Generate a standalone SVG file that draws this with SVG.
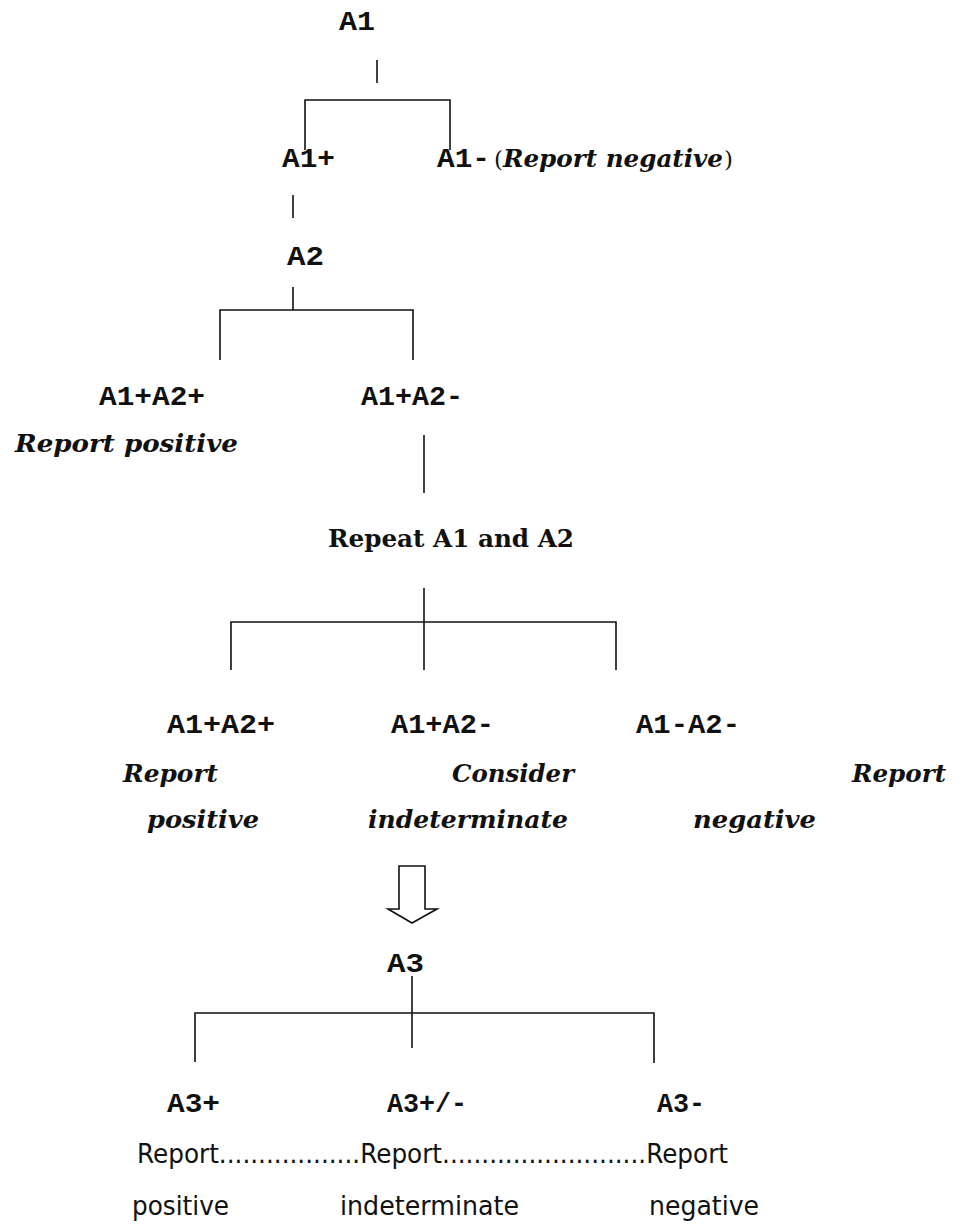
<svg xmlns="http://www.w3.org/2000/svg" width="963" height="1224" viewBox="0 0 963 1224">
<style>
.m{font-family:"Liberation Mono","DejaVu Sans Mono",monospace;font-weight:bold;font-size:27px;fill:#111}
.i{font-family:"DejaVu Serif","Liberation Serif",serif;font-weight:bold;font-style:italic;font-size:24px;fill:#111}
.r{font-family:"DejaVu Serif","Liberation Serif",serif;font-size:23px;fill:#111}
.b{font-family:"DejaVu Serif","Liberation Serif",serif;font-weight:bold;font-size:25px;fill:#111}
.s{font-family:"DejaVu Sans","Liberation Sans",sans-serif;font-size:26px;fill:#111}
.c{stroke:#111;stroke-width:1.6;fill:none}
</style>
<rect width="963" height="1224" fill="#fff"/>
<g id="connectors" class="c">
<path d="M377 60V83"/>
<path d="M305 150V100H450V150"/>
<path d="M293 195V218"/>
<path d="M293 287V310"/>
<path d="M220 360V310H413V360"/>
<path d="M424 435V493"/>
<path d="M424 588V670"/>
<path d="M231 670V622H616V670"/>
<polygon points="399,866 425,866 425,909 437,909 412,923 388,909 399,909" fill="#fff"/>
<path d="M412 976V1048"/>
<path d="M195 1062V1013H654V1063"/>
</g>
<g id="n-a1"><text class="m" x="339" y="30" textLength="36" lengthAdjust="spacingAndGlyphs">A1</text></g>
<g id="n-a1pos"><text class="m" x="282" y="167" textLength="53" lengthAdjust="spacingAndGlyphs">A1+</text></g>
<g id="n-a1neg"><text class="m" x="437" y="167" textLength="53" lengthAdjust="spacingAndGlyphs">A1-</text>
<text class="r" x="494" y="167">(</text>
<text class="i" x="503" y="167" textLength="220" lengthAdjust="spacingAndGlyphs">Report negative</text>
<text class="r" x="724" y="167">)</text></g>
<g id="n-a2"><text class="m" x="287" y="265" textLength="37" lengthAdjust="spacingAndGlyphs">A2</text></g>
<g id="n-a1pa2p"><text class="m" x="99" y="405" textLength="106" lengthAdjust="spacingAndGlyphs">A1+A2+</text>
<text class="i" x="15" y="452" textLength="223" lengthAdjust="spacingAndGlyphs">Report  positive</text></g>
<g id="n-a1pa2n"><text class="m" x="361" y="405" textLength="102" lengthAdjust="spacingAndGlyphs">A1+A2-</text></g>
<g id="n-repeat"><text class="b" x="328" y="547" textLength="246" lengthAdjust="spacingAndGlyphs">Repeat A1 and A2</text></g>
<g id="n-r-pp"><text class="m" x="167" y="733" textLength="108" lengthAdjust="spacingAndGlyphs">A1+A2+</text>
<text class="i" x="123" y="782" textLength="95" lengthAdjust="spacingAndGlyphs">Report</text>
<text class="i" x="147" y="828" textLength="112" lengthAdjust="spacingAndGlyphs">positive</text></g>
<g id="n-r-pn"><text class="m" x="391" y="733" textLength="103" lengthAdjust="spacingAndGlyphs">A1+A2-</text>
<text class="i" x="452" y="782" textLength="122" lengthAdjust="spacingAndGlyphs">Consider</text>
<text class="i" x="368" y="828" textLength="200" lengthAdjust="spacingAndGlyphs">indeterminate</text></g>
<g id="n-r-nn"><text class="m" x="636" y="733" textLength="104" lengthAdjust="spacingAndGlyphs">A1-A2-</text>
<text class="i" x="852" y="782" textLength="94" lengthAdjust="spacingAndGlyphs">Report</text>
<text class="i" x="693" y="828" textLength="123" lengthAdjust="spacingAndGlyphs">negative</text></g>
<g id="n-a3"><text class="m" x="387" y="972" textLength="37" lengthAdjust="spacingAndGlyphs">A3</text></g>
<g id="n-a3p"><text class="m" x="167" y="1112" textLength="53" lengthAdjust="spacingAndGlyphs">A3+</text>
<text class="s" x="132" y="1215" textLength="97" lengthAdjust="spacingAndGlyphs">positive</text></g>
<g id="n-a3pn"><text class="m" x="387" y="1112" textLength="80" lengthAdjust="spacingAndGlyphs">A3+/-</text>
<text class="s" x="340" y="1215" textLength="179" lengthAdjust="spacingAndGlyphs">indeterminate</text></g>
<g id="n-a3n"><text class="m" x="657" y="1112" textLength="48" lengthAdjust="spacingAndGlyphs">A3-</text>
<text class="s" x="649" y="1215" textLength="110" lengthAdjust="spacingAndGlyphs">negative</text></g>
<g id="n-a3-report"><text class="s" x="137" y="1163" textLength="591" lengthAdjust="spacingAndGlyphs">Report..................Report..........................Report</text></g>
</svg>
